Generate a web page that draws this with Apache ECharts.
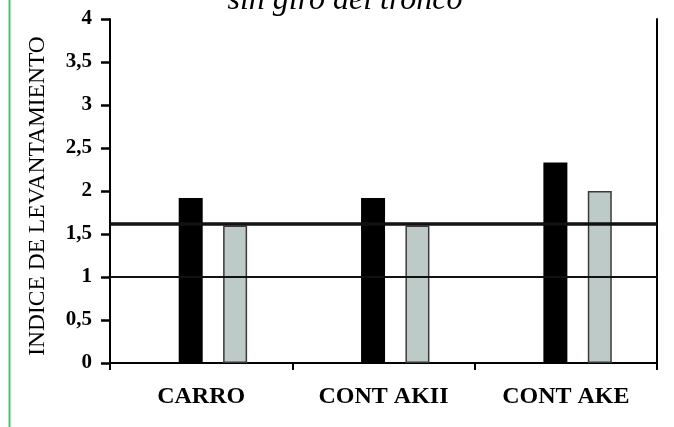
<!DOCTYPE html>
<html>
<head>
<meta charset="utf-8">
<script src="https://cdn.jsdelivr.net/npm/echarts@6/dist/echarts.min.js"></script>
<style>
  html, body { margin: 0; padding: 0; background: #ffffff; }
  #chart { width: 674px; height: 427px; }
</style>
</head>
<body>
<div id="chart"></div>
<script>
// Categories and values of the lifting index
const categories = ['CARRO', 'CONT AKII', 'CONT AKE'];
const seriesDark = [1.92, 1.92, 2.33];
const seriesLight = [1.60, 1.60, 2.00];
// Reference levels drawn across the plot
const refThin = 1;
const refThick = 1.62;
// Y axis range
const yMin = 0, yMax = 4, yStep = 0.5;

const serif = "'Liberation Serif', 'DejaVu Serif', serif";

const chart = echarts.init(document.getElementById('chart'), null, { renderer: 'canvas' });

chart.setOption({
  animation: false,
  backgroundColor: '#ffffff',
  grid: { left: 110, right: 17, top: 19, bottom: 64, containLabel: false },
  graphic: [
    {
      type: 'line',
      shape: { x1: 9.5, y1: 0, x2: 9.5, y2: 427 },
      style: { stroke: '#4cc46c', lineWidth: 2 },
      silent: true
    },
    {
      type: 'text',
      x: 345,
      y: 1,
      style: {
        text: 'sin giro del tronco',
        font: 'italic 32px ' + serif,
        fill: '#000000',
        align: 'center',
        verticalAlign: 'middle'
      },
      silent: true
    }
  ],
  xAxis: {
    type: 'category',
    data: categories,
    axisLine: { lineStyle: { color: '#000', width: 2 } },
    axisTick: { show: true, length: 7, lineStyle: { color: '#000', width: 2 } },
    axisLabel: {
      margin: 22,
      color: '#000',
      fontFamily: serif,
      fontWeight: 'bold',
      fontSize: 24
    },
    splitLine: { show: false }
  },
  yAxis: [
    {
      type: 'value',
      min: yMin,
      max: yMax,
      interval: yStep,
      name: 'INDICE DE LEVANTAMIENTO',
      nameLocation: 'middle',
      nameGap: 60,
      nameTextStyle: { color: '#000', fontFamily: serif, fontSize: 23.5, padding: [0, 10, 0, 0] },
      axisLine: { show: true, lineStyle: { color: '#000', width: 2 } },
      axisTick: { show: true, length: 9, lineStyle: { color: '#000', width: 2.5 } },
      axisLabel: {
        margin: 18,
        color: '#000',
        fontFamily: serif,
        fontWeight: 'bold',
        fontSize: 21,
        formatter: v => String(v).replace('.', ',')
      },
      splitLine: { show: false }
    },
    {
      type: 'value',
      position: 'right',
      min: yMin,
      max: yMax,
      interval: yStep,
      axisLine: { show: true, lineStyle: { color: '#000', width: 2 } },
      axisTick: { show: false },
      axisLabel: { show: false },
      splitLine: { show: false }
    }
  ],
  series: [
    {
      // empty spacer that shifts each bar pair to the right inside its category
      name: 'spacer',
      type: 'bar',
      data: categories.map(() => '-'),
      barWidth: 12.7,
      barGap: '85%',
      silent: true
    },
    {
      name: 'oscuro',
      type: 'bar',
      data: seriesDark,
      barWidth: 24,
      barGap: '85%',
      itemStyle: { color: '#000000' },
      z: 3
    },
    {
      name: 'claro',
      type: 'bar',
      data: seriesLight,
      barWidth: 24,
      barGap: '85%',
      itemStyle: { color: '#bdcac8', borderColor: '#3a3a3a', borderWidth: 1.5 },
      z: 2,
      markLine: {
        silent: true,
        symbol: 'none',
        label: { show: false },
        z: 4,
        data: [
          { yAxis: refThin, lineStyle: { color: '#111', width: 2, type: 'solid' } },
          { yAxis: refThick, lineStyle: { color: '#111', width: 3.5, type: 'solid' } }
        ]
      }
    }
  ]
});
</script>
</body>
</html>
